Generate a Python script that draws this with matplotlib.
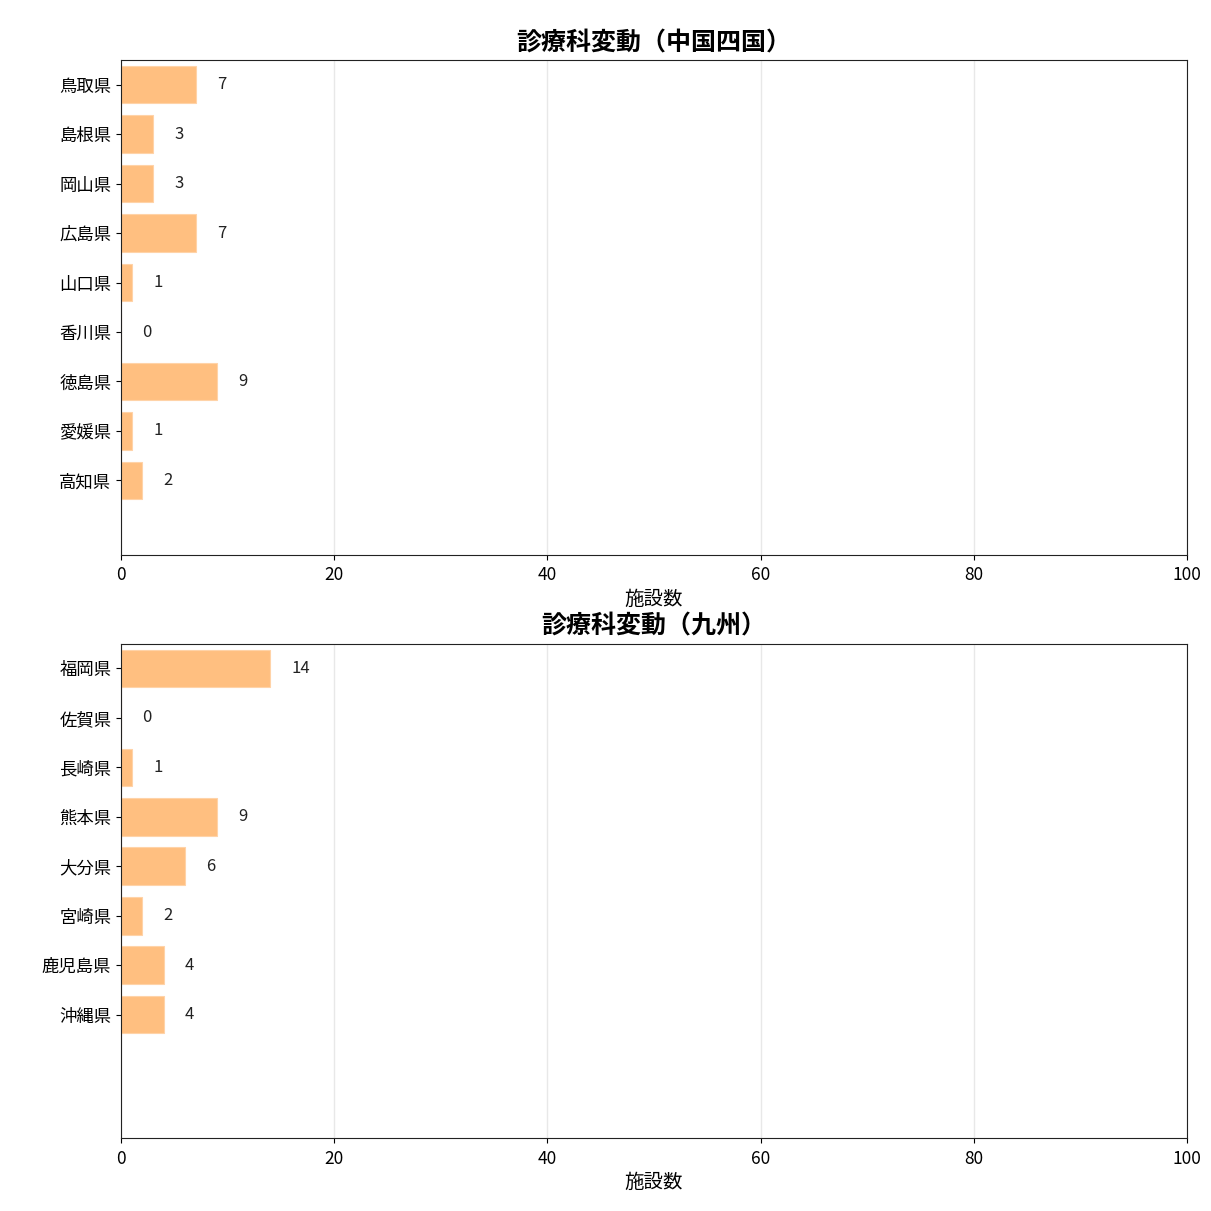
import matplotlib
matplotlib.use("Agg")
import matplotlib.pyplot as plt

plt.rcParams['font.family'] = ['Noto Sans CJK JP', 'DejaVu Sans']

chushikoku_prefs = ["鳥取県", "島根県", "岡山県", "広島県", "山口県", "香川県", "徳島県", "愛媛県", "高知県"]
chushikoku_vals = [7, 3, 3, 7, 1, 0, 9, 1, 2]
kyushu_prefs = ["福岡県", "佐賀県", "長崎県", "熊本県", "大分県", "宮崎県", "鹿児島県", "沖縄県"]
kyushu_vals = [14, 0, 1, 9, 6, 2, 4, 4]
titles = ["診療科変動（中国四国）", "診療科変動（九州）"]
xlabel = "施設数"

fig, axes = plt.subplots(2, 1, figsize=(12.11, 12.11), dpi=100)
fig.subplots_adjust(left=0.1, right=0.98, top=0.9505, bottom=0.06, hspace=0.18)

for ax, prefs, vals, title in zip(axes, [chushikoku_prefs, kyushu_prefs],
                                  [chushikoku_vals, kyushu_vals], titles):
    y = list(range(len(prefs)))
    ax.barh(y, vals, height=0.76, color='#ffbf80', edgecolor='#ffd3a8', linewidth=0.8, zorder=2)
    for yi, v in zip(y, vals):
        ax.text(v + 2, yi, str(v), va='center', ha='left', fontsize=12, color='#222222')
    ax.set_yticks(y)
    ax.set_yticklabels(prefs, fontsize=12.5)
    ax.set_ylim(9.5, -0.5)
    ax.set_xlim(0, 100)
    ax.set_xticks([0, 20, 40, 60, 80, 100])
    ax.tick_params(axis='x', labelsize=12.5, pad=5)
    ax.grid(axis='x', color='#e8e8e8', linewidth=1, zorder=0)
    ax.set_axisbelow(True)
    ax.set_xlabel(xlabel, fontsize=14, labelpad=3)
    ax.set_title(title, fontsize=18, fontweight='bold', pad=7)
    for s in ax.spines.values():
        s.set_color('#222222')

fig.savefig("out.png")
